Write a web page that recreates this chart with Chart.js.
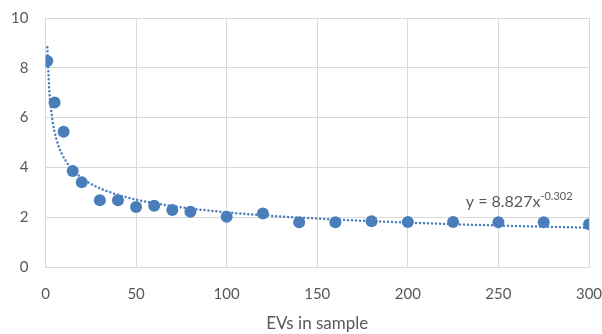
<!DOCTYPE html>
<html>
<head>
<meta charset="utf-8">
<script src="https://cdn.jsdelivr.net/npm/chart.js@4/dist/chart.umd.min.js"></script>
<style>
  html, body { margin: 0; padding: 0; background: #fff; }
  #wrap { width: 602px; height: 334px; position: relative; }
</style>
</head>
<body>
<div id="wrap"><canvas id="c" width="602" height="334"></canvas></div>
<script>
// Data
const evCounts = [1, 5, 10, 15, 20, 30, 40, 50, 60, 70, 80, 100, 120, 140, 160, 180, 200, 225, 250, 275, 300];
const values   = [8.27, 6.61, 5.43, 3.86, 3.40, 2.68, 2.68, 2.41, 2.46, 2.29, 2.22, 2.02, 2.15, 1.80, 1.80, 1.84, 1.81, 1.81, 1.80, 1.80, 1.72];
const xTicks = [0, 50, 100, 150, 200, 250, 300];
const yTicks = [0, 2, 4, 6, 8, 10];
const xTitle = 'EVs in sample';
// Power trendline shown on the chart: y = 8.827 x^-0.302
const trendCoef = 8.827;
const trendExp = -0.302;
const trendLabelMain = 'y = 8.827x';
const trendLabelSup = '-0.302';

const trendX = [];
for (let x = 1; x <= 300; x += 1) trendX.push(x);
const trendData = trendX.map(x => ({ x: x, y: trendCoef * Math.pow(x, trendExp) }));

const FONT = 'Lato, "Open Sans", sans-serif';
const TXT = '#595959';
const BLUE = '#4a7ebb';

const eqPlugin = {
  id: 'eq',
  afterDatasetsDraw(chart) {
    const ctx = chart.ctx;
    const xs = chart.scales.x, ys = chart.scales.y;
    const px = xs.getPixelForValue(232);
    const py = ys.getPixelForValue(2.62);
    ctx.save();
    ctx.fillStyle = TXT;
    ctx.textBaseline = 'middle';
    ctx.textAlign = 'left';
    ctx.font = '16px ' + FONT;
    ctx.fillText(trendLabelMain, px, py);
    const w = ctx.measureText(trendLabelMain).width;
    ctx.font = '11px ' + FONT;
    ctx.fillText(trendLabelSup, px + w, py - 5);
    ctx.restore();
  }
};

new Chart(document.getElementById('c'), {
  type: 'scatter',
  data: {
    datasets: [
      {
        label: 'trend',
        type: 'line',
        data: trendData,
        borderColor: BLUE,
        borderWidth: 2.5,
        borderDash: [0, 4],
        borderCapStyle: 'round',
        pointRadius: 0,
        fill: false,
        tension: 0,
        order: 2
      },
      {
        label: 'values',
        data: evCounts.map((x, i) => ({ x: x, y: values[i] })),
        backgroundColor: BLUE,
        borderColor: BLUE,
        borderWidth: 0,
        pointRadius: 6,
        pointHoverRadius: 6,
        order: 1
      }
    ]
  },
  options: {
    responsive: false,
    animation: false,
    events: [],
    layout: { padding: { top: 18, right: 13, left: 0, bottom: 0 } },
    plugins: { legend: { display: false }, tooltip: { enabled: false } },
    scales: {
      x: {
        type: 'linear',
        min: 0, max: 300,
        afterBuildTicks(s) { s.ticks = xTicks.map(v => ({ value: v })); },
        afterFit(s) { s.height = 67; s.paddingLeft = 0; s.paddingRight = 0; },
        grid: { color: '#d9d9d9', lineWidth: 1, drawTicks: false },
        border: { color: '#d9d9d9', width: 1 },
        ticks: { color: TXT, font: { family: FONT, size: 15 }, padding: 18, maxRotation: 0 },
        title: { display: true, text: xTitle, color: TXT, font: { family: FONT, size: 17 }, padding: { top: 5, bottom: 0 } }
      },
      y: {
        min: 0, max: 10,
        afterBuildTicks(s) { s.ticks = yTicks.map(v => ({ value: v })); },
        afterFit(s) { s.width = 45.5; s.paddingTop = 0; s.paddingBottom = 0; },
        grid: { color: '#d9d9d9', lineWidth: 1, drawTicks: false },
        border: { color: '#d9d9d9', width: 1 },
        ticks: { color: TXT, font: { family: FONT, size: 15 }, padding: 17 }
      }
    }
  },
  plugins: [eqPlugin]
});
</script>
</body>
</html>
